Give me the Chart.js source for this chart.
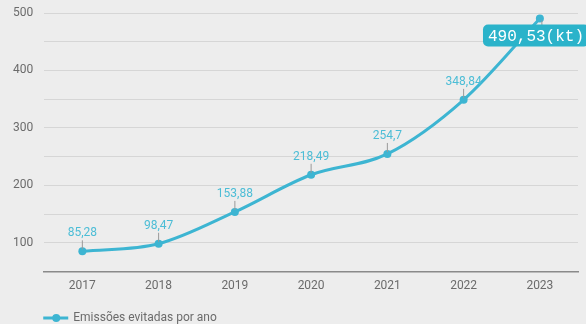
<!DOCTYPE html>
<html>
<head>
<meta charset="utf-8">
<script src="https://cdn.jsdelivr.net/npm/chart.js@4/dist/chart.umd.min.js"></script>
<style>
  html, body { margin: 0; padding: 0; background: #ededed; }
  #wrap { width: 586px; height: 324px; position: relative; }
</style>
</head>
<body>
<div id="wrap"><canvas id="chart"></canvas></div>
<script>
// --- data ---
const years = ['2017', '2018', '2019', '2020', '2021', '2022', '2023'];
const avoided = [85.28, 98.47, 153.88, 218.49, 254.7, 348.84, 490.53];
const valueLabels = ['85,28', '98,47', '153,88', '218,49', '254,7', '348,84', '490,53(kt)'];
const seriesName = 'Emissões evitadas por ano';

const TEAL = '#3db5d2';
const LABEL = '#4cbdd6';

// draws the value callouts above each point, last one as a filled box
const calloutPlugin = {
    id: 'callouts',
    afterDatasetsDraw(chart) {
        const ctx = chart.ctx;
        const pts = chart.getDatasetMeta(0).data;
        ctx.save();
        pts.forEach((p, i) => {
            const last = i === pts.length - 1;
            ctx.strokeStyle = '#999';
            ctx.lineWidth = 1;
            if (!last) {
                ctx.beginPath();
                ctx.moveTo(p.x, p.y - 2);
                ctx.lineTo(p.x, p.y - 11);
                ctx.stroke();
                ctx.font = '12px Roboto';
                ctx.fillStyle = LABEL;
                ctx.textAlign = 'center';
                ctx.textBaseline = 'bottom';
                ctx.fillText(valueLabels[i], p.x, p.y - 12);
            } else {
                ctx.beginPath();
                ctx.moveTo(p.x + 2, p.y + 2);
                ctx.lineTo(p.x + 2, p.y + 8);
                ctx.stroke();
                ctx.font = '16px "Liberation Mono"';
                const w = ctx.measureText(valueLabels[i]).width + 10;
                const h = 22;
                const x = Math.min(p.x - w / 2, chart.width - w + 3);
                const y = p.y + 6;
                ctx.fillStyle = '#2bb3ca';
                ctx.beginPath();
                ctx.roundRect(x, y, w, h, 5);
                ctx.fill();
                ctx.fillStyle = '#fff';
                ctx.textAlign = 'left';
                ctx.textBaseline = 'middle';
                ctx.fillText(valueLabels[i], x + 5, y + h / 2 + 1);
            }
        });
        ctx.restore();
    }
};

// legend at the bottom left: line with a dot, then the series name
const legendPlugin = {
    id: 'lineLegend',
    afterDraw(chart) {
        const ctx = chart.ctx;
        const x = chart.chartArea.left - 1;
        const y = chart.height - 6;
        ctx.save();
        ctx.strokeStyle = TEAL;
        ctx.lineWidth = 3;
        ctx.beginPath();
        ctx.moveTo(x, y);
        ctx.lineTo(x + 25, y);
        ctx.stroke();
        ctx.fillStyle = TEAL;
        ctx.beginPath();
        ctx.arc(x + 13, y, 4, 0, Math.PI * 2);
        ctx.fill();
        ctx.font = '12px Roboto';
        ctx.fillStyle = '#6b6b6b';
        ctx.textAlign = 'left';
        ctx.textBaseline = 'middle';
        ctx.fillText(chart.data.datasets[0].label, x + 30, y);
        ctx.restore();
    }
};

new Chart(document.getElementById('chart'), {
    type: 'line',
    data: {
        labels: years,
        datasets: [{
            label: seriesName,
            data: avoided,
            borderColor: TEAL,
            backgroundColor: TEAL,
            borderWidth: 3,
            pointRadius: 4,
            pointHoverRadius: 4,
            pointBackgroundColor: TEAL,
            pointBorderWidth: 0,
            cubicInterpolationMode: 'monotone',
            fill: false
        }]
    },
    options: {
        responsive: true,
        maintainAspectRatio: false,
        animation: false,
        layout: { padding: { top: 0, right: 8, left: 2, bottom: 0 } },
        scales: {
            x: {
                offset: true,
                grid: { display: false, drawTicks: false },
                border: { color: '#8a8a8a', width: 1.5 },
                ticks: { color: '#6b6b6b', font: { family: 'Roboto', size: 12 }, padding: 7 },
                afterFit(scale) { scale.height += 24; }
            },
            y: {
                min: 50,
                max: 500,
                ticks: {
                    stepSize: 50,
                    color: '#6b6b6b',
                    font: { family: 'Roboto', size: 12 },
                    padding: 11,
                    callback: v => (v % 100 === 0 ? v : '')
                },
                grid: { color: '#d6d6d6', lineWidth: 1, drawTicks: false },
                border: { display: false },
                afterFit(scale) { scale.paddingTop = 13; }
            }
        },
        plugins: {
            legend: { display: false },
            tooltip: { enabled: false }
        }
    },
    plugins: [calloutPlugin, legendPlugin]
});
</script>
</body>
</html>
